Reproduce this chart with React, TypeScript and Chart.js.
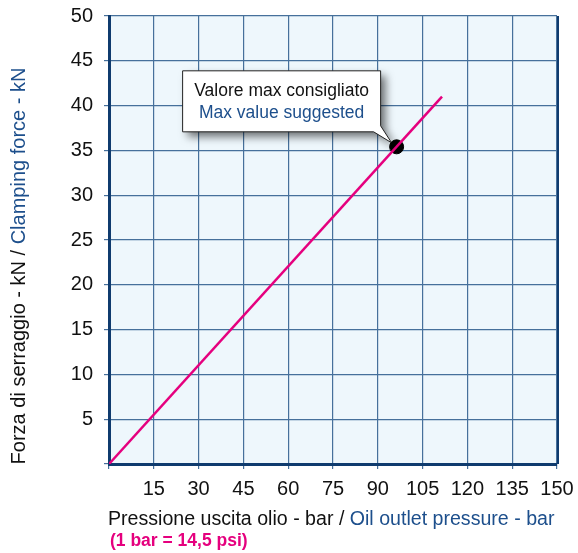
import React, { useEffect, useRef } from "react";
import { Chart, registerables } from "chart.js";

Chart.register(...registerables);

const pressure = [0, 111.5];
const force = [0, 41];
const maxPressure = [96.3];
const maxForce = [35.4];
const xTicks = [0, 15, 30, 45, 60, 75, 90, 105, 120, 135, 150];
const yTicks = [0, 5, 10, 15, 20, 25, 30, 35, 40, 45, 50];

const FONT = '"Liberation Sans", Arial, sans-serif';
const NAVY = "#0f3b6e";
const GRID = "#46709b";
const BLUE = "#1d4f8c";
const MAGENTA = "#e5007e";

const overlay = {
  id: "overlay",
  beforeDatasetsDraw(chart: any) {
    const { ctx, chartArea } = chart;
    const meta = chart.getDatasetMeta(1);
    const pt = meta.data[0];
    const px = pt.x, py = pt.y;
    // right border
    ctx.save();
    ctx.strokeStyle = NAVY;
    ctx.lineWidth = 2;
    ctx.beginPath();
    ctx.moveTo(chartArea.right + 1, chartArea.top);
    ctx.lineTo(chartArea.right + 1, chartArea.bottom);
    ctx.stroke();
    ctx.restore();

    // callout
    const right = px - 16;
    const bottom = py - 15;
    const left = right - 198;
    const top = bottom - 61;
    ctx.save();
    ctx.beginPath();
    ctx.moveTo(left, top);
    ctx.lineTo(right, top);
    ctx.lineTo(right, bottom - 6);
    ctx.lineTo(px - 5, py - 4);
    ctx.lineTo(right - 7, bottom);
    ctx.lineTo(left, bottom);
    ctx.closePath();
    ctx.shadowColor = "rgba(0,0,0,0.55)";
    ctx.shadowBlur = 8;
    ctx.shadowOffsetX = 5;
    ctx.shadowOffsetY = 5;
    ctx.fillStyle = "#ffffff";
    ctx.fill();
    ctx.shadowColor = "transparent";
    ctx.strokeStyle = "#222";
    ctx.lineWidth = 1;
    ctx.stroke();
    ctx.font = `17.5px ${FONT}`;
    ctx.textAlign = "center";
    ctx.textBaseline = "alphabetic";
    const cx = (left + right) / 2;
    ctx.fillStyle = "#111";
    ctx.fillText("Valore max consigliato", cx, top + 25);
    ctx.fillStyle = BLUE;
    ctx.fillText("Max value suggested", cx, top + 47);
    ctx.restore();
  },
  afterDraw(chart: any) {
    const { ctx, chartArea } = chart;
    ctx.save();
    // x title
    ctx.font = `19.6px ${FONT}`;
    ctx.textBaseline = "alphabetic";
    ctx.textAlign = "left";
    const a = "Pressione uscita olio - bar / ";
    const b = "Oil outlet pressure - bar";
    let x = chartArea.left - 1;
    ctx.fillStyle = "#111";
    ctx.fillText(a, x, 525);
    x += ctx.measureText(a).width;
    ctx.fillStyle = BLUE;
    ctx.fillText(b, x, 525);
    ctx.font = `bold 17.5px ${FONT}`;
    ctx.fillStyle = MAGENTA;
    ctx.fillText("(1 bar = 14,5 psi)", chartArea.left + 1, 546);
    // y title
    ctx.translate(25, 266);
    ctx.rotate(-Math.PI / 2);
    ctx.font = `20px ${FONT}`;
    const c = "Forza di serraggio - kN / ";
    const d = "Clamping force - kN";
    const total = ctx.measureText(c + d).width;
    let y0 = -total / 2;
    ctx.fillStyle = "#111";
    ctx.fillText(c, y0, 0);
    y0 += ctx.measureText(c).width;
    ctx.fillStyle = BLUE;
    ctx.fillText(d, y0, 0);
    ctx.restore();
  },
};

export default function App() {
  const ref = useRef<HTMLCanvasElement>(null);
  useEffect(() => {
    if (!ref.current) return;
    const chart = new Chart(ref.current, {
      type: "scatter",
      data: {
        datasets: [
          {
            data: pressure.map((p, i) => ({ x: p, y: force[i] })),
            showLine: true,
            borderColor: MAGENTA,
            borderWidth: 2.5,
            pointRadius: 0,
          },
          {
            data: maxPressure.map((p, i) => ({ x: p, y: maxForce[i] })),
            pointRadius: 7,
            pointBackgroundColor: "#000",
            pointBorderColor: "#000",
          },
        ],
      },
      options: {
        responsive: false,
        animation: false,
        layout: { padding: { left: 0, right: 21, top: 16, bottom: 0 } },
        plugins: { legend: { display: false }, tooltip: { enabled: false } },
        scales: {
          x: {
            type: "linear",
            min: 0,
            max: 150,
            afterBuildTicks: (s: any) => {
              s.ticks = xTicks.map((v) => ({ value: v }));
            },
            afterFit: (s: any) => {
              s.height = 89;
              s.paddingLeft = 0;
              s.paddingRight = 0;
            },
            ticks: {
              autoSkip: false,
              maxRotation: 0,
              padding: 8,
              color: "#111",
              font: { family: FONT, size: 20 },
              callback: (v: any) => (v === 0 ? "" : String(v)),
            },
            grid: { color: GRID, lineWidth: 1.2, tickLength: 5, tickColor: GRID },
            border: { color: NAVY, width: 3 },
          },
          y: {
            type: "linear",
            min: 0,
            max: 50,
            afterBuildTicks: (s: any) => {
              s.ticks = yTicks.map((v) => ({ value: v }));
            },
            afterFit: (s: any) => {
              s.width = 109;
              s.paddingTop = 0;
              s.paddingBottom = 0;
            },
            ticks: {
              autoSkip: false,
              padding: 11,
              color: "#111",
              font: { family: FONT, size: 20 },
              callback: (v: any) => (v === 0 ? "" : String(v)),
            },
            grid: { color: GRID, lineWidth: 1.2, tickLength: 5, tickColor: GRID },
            border: { color: NAVY, width: 3 },
          },
        },
      },
      plugins: [
        {
          id: "bg",
          beforeDraw(chart: any) {
            const { ctx, chartArea } = chart;
            ctx.save();
            ctx.fillStyle = "#eef7fc";
            ctx.fillRect(chartArea.left, chartArea.top, chartArea.right - chartArea.left, chartArea.bottom - chartArea.top);
            ctx.restore();
          },
        },
        overlay,
      ],
    } as any);
    return () => chart.destroy();
  }, []);
  return (
    <div style={{ position: "fixed", left: 0, top: 0, width: 578, height: 553, background: "#fff" }}>
      <canvas ref={ref} width={578} height={553} style={{ width: 578, height: 553 }} />
    </div>
  );
}
